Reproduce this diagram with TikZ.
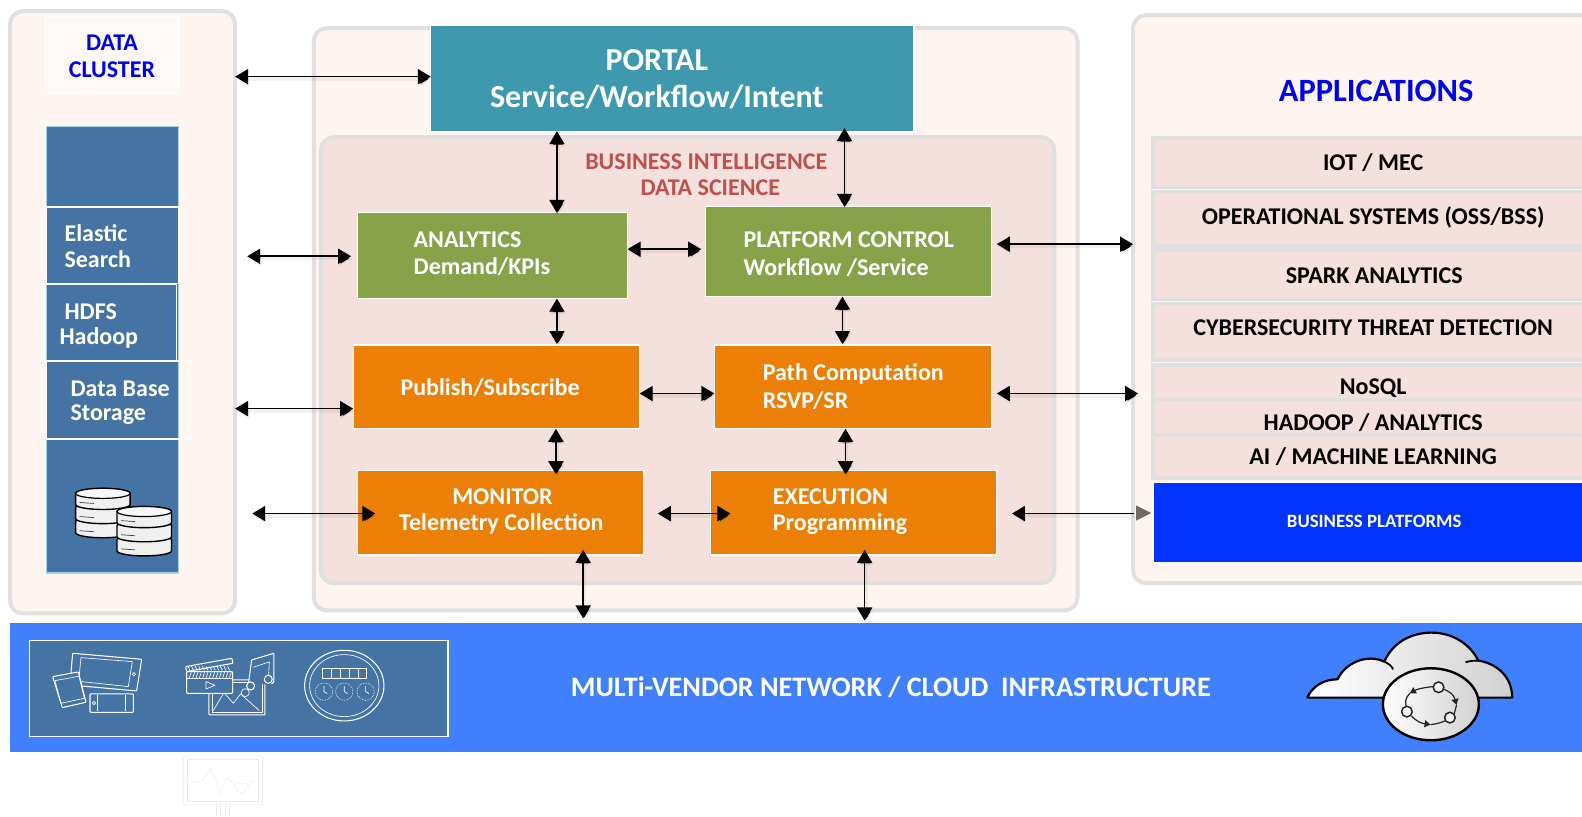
\documentclass[tikz,border=0pt]{standalone}
\usepackage{fontspec}
\setmainfont{Carlito}
\usetikzlibrary{arrows.meta,calc}
\definecolor{panelfill}{HTML}{FEF5F0}
\definecolor{panelline}{HTML}{E0E0E0}
\definecolor{rosefill}{HTML}{F4E0DC}
\definecolor{tealbox}{HTML}{3E99AE}
\definecolor{greenbox}{HTML}{88A24A}
\definecolor{orangebox}{HTML}{EC7F05}
\definecolor{steel}{HTML}{4573A4}
\definecolor{infra}{HTML}{4080FF}
\definecolor{bizblue}{HTML}{0033FF}
\definecolor{bitext}{HTML}{C0504D}
\definecolor{edgeblue}{HTML}{A5D3E3}
\definecolor{ghost}{HTML}{ECECEC}
\definecolor{tipgrey}{HTML}{706A66}
\newcommand{\bx}[6][]{\node[#1,minimum width={(#4-#2)*1.009pt},minimum height={(#5-#3)*1.009pt}] (#6) at ({(#2+#4)/2},{(#3+#5)/2}) {};}
\newcommand{\disk}[2]{%
  \draw[black,line width=1.4pt,fill=white!88!gray] (#1-27,#2) -- (#1-27,#2+11) arc[start angle=180,end angle=0,x radius=27,y radius=5] -- (#1+27,#2) arc[start angle=0,end angle=-180,x radius=27,y radius=5] -- cycle;
  \draw[black!75,line width=.7pt] (#1-23,#2+9) -- (#1-9,#2+10);}
\newcommand{\disktop}[2]{%
  \draw[black,line width=1.2pt,fill=white!94!gray] (#1,#2) ellipse [x radius=27,y radius=5];}
\tikzset{
  panel/.style={draw=panelline,line width=4pt,fill=panelfill,rounded corners=13pt,inner sep=0pt,outer sep=0pt},
  inner panel/.style={draw=panelline,line width=4pt,fill=rosefill,rounded corners=13pt,inner sep=0pt,outer sep=0pt},
  solidbox/.style={draw=white,line width=1.2pt,inner sep=0pt,outer sep=0pt},
  rowbox/.style={draw=panelline,line width=3.5pt,fill=rosefill,inner sep=0pt,outer sep=0pt},
  wframe/.style={draw=white,line width=1.4pt,inner sep=0pt,outer sep=0pt},
  txt/.style={font=\bfseries\fontsize{24}{28}\selectfont,text=white,inner sep=0pt,outer sep=0pt},
  dtxt/.style={font=\bfseries\fontsize{24}{28}\selectfont,text=black,inner sep=0pt},
  softshadow/.style={preaction={draw=black,draw opacity=.05,line width=4pt,transform canvas={shift={(1pt,-2.2pt)}}}},
  dbl/.style={{Triangle[length=13pt,width=15pt]}-{Triangle[length=13pt,width=15pt]},line width=1.6pt,black,softshadow},
  icon/.style={draw=white,line width=1.05pt,line join=round,rounded corners=.8pt},
  icon2/.style={draw=white,line width=.65pt,line join=round},
}
\begin{document}
\begin{tikzpicture}[x=1.009pt,y=-1.009pt]
\clip (0,0) rectangle (1568,809);
\fill[white] (0,0) rectangle (1568,809);
% panels
\bx[panel]{10}{11}{233}{608}{leftpanel}
\bx[panel]{311}{28}{1068}{605}{midpanel}
\bx[panel]{1123}{15}{1592}{578}{rightpanel}
\bx[inner panel]{318}{136}{1045}{578}{bipanel}
% infrastructure band
\bx[solidbox,fill=infra,draw=none]{10}{617}{1568}{745}{infraband}
\bx[solidbox,fill=steel]{29}{635}{444}{730}{devbox}
\node[txt,font=\bfseries\fontsize{28.2}{32}\selectfont] (infralabel) at (883,681) {MULTi-VENDOR NETWORK / CLOUD\ \ INFRASTRUCTURE};
% portal
\bx[solidbox,fill=tealbox]{427}{25}{906}{130}{portal}
\node[txt,font=\bfseries\fontsize{32}{36}\selectfont] (portalA) at (651,60) {PORTAL};
\node[txt,font=\bfseries\fontsize{32}{36}\selectfont] (portalB) at (651,96) {Service/Workflow/Intent};
\node[font=\bfseries\fontsize{24}{28}\selectfont,text=bitext,inner sep=0pt] (biA) at (700,160) {BUSINESS INTELLIGENCE};
\node[font=\bfseries\fontsize{24}{28}\selectfont,text=bitext,inner sep=0pt] (biB) at (704,186) {DATA SCIENCE};
% function boxes
\bx[solidbox,fill=greenbox]{354}{211}{622}{296}{analytics}
\bx[solidbox,fill=greenbox]{699}{205}{983}{294}{platform}
\bx[solidbox,fill=orangebox]{350}{342}{634}{425}{publish}
\bx[solidbox,fill=orangebox]{708}{342}{983}{425}{path}
\bx[solidbox,fill=orangebox]{354}{466}{638}{550}{monitor}
\bx[solidbox,fill=orangebox]{704}{466}{988}{550}{execution}
\node[txt,anchor=west] (anaA) at (410,238) {ANALYTICS};
\node[txt,anchor=west] (anaB) at (410,264) {Demand/KPIs};
\node[txt,anchor=west] (plaA) at (737,238) {PLATFORM CONTROL};
\node[txt,anchor=west] (plaB) at (737,265) {Workflow /Service};
\node[txt,anchor=west] (pubA) at (397,384) {Publish/Subscribe};
\node[txt,anchor=west] (patA) at (756,371) {Path Computation};
\node[txt,anchor=west] (patB) at (756,397) {RSVP/SR};
\node[txt] (monA) at (498,492) {MONITOR};
\node[txt] (monB) at (497,519) {Telemetry Collection};
\node[txt,anchor=west] (exeA) at (766,492) {EXECUTION};
\node[txt,anchor=west] (exeB) at (766,519) {Programming};
% data cluster column
\bx[wframe,fill=white!40!panelfill,line width=1pt]{45}{16}{177}{93}{clusterbox}
\node[font=\bfseries\fontsize{24}{28}\selectfont,text=blue!95!black,inner sep=0pt] (clusA) at (111,42) {DATA};
\node[font=\bfseries\fontsize{24}{28}\selectfont,text=blue!95!black,inner sep=0pt] (clusB) at (111,69) {CLUSTER};
\bx[solidbox,fill=steel,draw=edgeblue]{46}{125}{177}{568}{storecol}
\bx[wframe]{46}{205}{177}{281}{elastic}
\bx[wframe]{41}{282}{175}{358}{hdfs}
\bx[wframe]{46}{358}{189}{435}{dbase}
\node[txt,anchor=west] (elaA) at (64,231) {Elastic};
\node[txt,anchor=west] (elaB) at (64,257) {Search};
\node[txt,anchor=west] (hdfA) at (64,309) {HDFS};
\node[txt,anchor=west] (hdfB) at (59,335) {Hadoop};
\node[txt,anchor=west] (dbA) at (70,385) {Data Base};
\node[txt,anchor=west] (dbB) at (70,411) {Storage};
% cylinders
\disk{102}{517}\disk{102}{503}\disk{102}{489}\disktop{102}{489}
\disk{143}{535}\disk{143}{521}\disk{143}{507}\disktop{143}{507}
% applications
\node[font=\bfseries\fontsize{32.5}{36}\selectfont,text=blue!95!black,inner sep=0pt] (apps) at (1364,90) {APPLICATIONS};
\bx[rowbox]{1143}{137}{1580}{186}{rowA}
\bx[rowbox]{1143}{190}{1580}{244}{rowB}
\bx[rowbox]{1143}{248}{1580}{297}{rowC}
\bx[rowbox]{1143}{301}{1580}{357}{rowD}
\bx[rowbox]{1143}{362}{1580}{396}{rowE}
\bx[rowbox]{1143}{396}{1580}{431}{rowF}
\bx[rowbox]{1143}{431}{1580}{474}{rowG}
\bx[solidbox,fill=bizblue,line width=.6pt]{1143.5}{478}{1580}{557}{bizbox}
\node[dtxt] (tA) at (1361,161) {IOT / MEC};
\node[dtxt] (tB) at (1361,215) {OPERATIONAL SYSTEMS (OSS/BSS)};
\node[dtxt] (tC) at (1362,273) {SPARK ANALYTICS};
\node[dtxt] (tD) at (1361,325) {CYBERSECURITY THREAT DETECTION};
\node[dtxt] (tE) at (1361,385) {NoSQL};
\node[dtxt] (tF) at (1361,419) {HADOOP / ANALYTICS};
\node[dtxt] (tG) at (1361,453) {AI / MACHINE LEARNING};
\node[txt,font=\bfseries\fontsize{18.8}{22}\selectfont] (tH) at (1362,517) {BUSINESS PLATFORMS};
% connectors
\coordinate (leftA) at (245,254);
\coordinate (leftB) at (250,509);
\coordinate (anaTip) at (348,254);
\coordinate (monTip) at (372,509);
\coordinate (exeLeft) at (652,509);
\coordinate (exeTip) at (724,509);
\coordinate (exeRight) at (1003,509);
\coordinate (bizTip) at (1124,509);
\coordinate (infraA) at (578,613);
\coordinate (infraB) at (857,615);
\draw[dbl] (leftpanel.east |- 0,76) -- (portal.west |- 0,76);
\draw[dbl] (552,130) -- (analytics.north -| 552,0);
\draw[dbl] (837,127) -- (platform.north -| 837,0);
\draw[dbl] (leftA) -- (anaTip);
\draw[dbl] (analytics.east |- 0,247) -- (695,247);
\draw[dbl] (988,242) -- (rightpanel.west |- 0,242);
\draw[dbl] (552,296) -- (552,341);
\draw[dbl] (835,294) -- (835,341);
\draw[dbl] (leftpanel.east |- 0,405) -- (publish.west |- 0,405);
\draw[dbl] (publish.east |- 0,390) -- (path.west |- 0,390);
\draw[dbl] (988,390) -- (1128,390);
\draw[dbl] (551,425) -- (551,470);
\draw[dbl] (838,425) -- (838,470);
\draw[dbl] (leftB) -- (monTip);
\draw[dbl] (exeLeft) -- (exeTip);
\draw[{Triangle[length=13pt,width=15pt]}-,line width=1.6pt,softshadow] (exeRight) -- (bizTip);
\fill[tipgrey] (1126,501) -- (1141,508.5) -- (1126,516) -- cycle;
\draw[dbl] (578,545) -- (infraA);
\draw[dbl] (857,545) -- (infraB);
% device icons (zoom coordinates)
\begin{scope}[shift={(0,604.56)},x=0.3333pt,y=-0.3333pt]
 % tablet
 \draw[icon] (218,130) -- (425,148) -- (410,243) -- (210,225) -- cycle;
 \draw[icon2] (243,143) -- (397,155) -- (385,230) -- (236,214) -- cycle;
 \draw[icon2] (402,193) circle (5);
 % phone left
 \draw[icon,fill=steel] (158,200) -- (235,186) -- (258,277) -- (187,293) -- cycle;
 \draw[icon2] (165,212) -- (237,199) -- (253,265) -- (183,280) -- cycle;
 % phone flat
 \draw[icon,fill=steel] (270,252) rectangle (400,307);
 \draw[icon2] (292,255) -- (292,304) (376,255) -- (376,304);
 \draw[icon2] (282,279) circle (5);
 % picture frame
 \draw[icon] (627,210) rectangle (795,315);
 \draw[icon2] (636,218) rectangle (786,306);
 \draw[icon2] (640,302) -- (672,248) -- (700,280) -- (722,252) -- (778,302);
 % music
 \draw[icon,fill=steel] (745,225) -- (755,150) -- (822,130) -- (822,215) -- (815,222);
 \draw[icon2] (760,172) -- (808,156) -- (806,200);
 \draw[icon,fill=steel] (752,228) circle (12);
 \draw[icon,fill=steel] (805,208) circle (12);
 \draw[icon2,fill=steel] (736,248) circle (12);
 % clapper
 \draw[icon,fill=steel] (557,170) -- (696,145) -- (699,160) -- (560,185) -- cycle;
 \draw[icon,fill=steel] (560,185) rectangle (698,250);
 \draw[icon2] (560,205) -- (698,205);
 \foreach \i in {0,...,12} {\draw[icon2] (568+10*\i,204) -- (574+10*\i,187);}
 \foreach \i in {0,...,11} {\draw[icon2] (570+10.8*\i,181) -- (564+10.8*\i,169);}
 \draw[icon2] (618,215) -- (645,226) -- (618,237) -- cycle;
 % meter
 \draw[icon] (1033,227) ellipse [x radius=119,y radius=106];
 \draw[icon2] (1033,227) ellipse [x radius=104,y radius=93];
 \draw[icon2] (967,176) rectangle (1100,205);
 \foreach \i in {993,1020,1047,1074} {\draw[icon2] (\i,176) -- (\i,205);}
 \foreach \c in {972,1033,1097} {
   \draw[icon2,densely dotted] (\c,245) circle (26);
   \draw[icon2] (\c,228) -- (\c,245) -- (\c+10,251);
 }
 % ghost monitor
 \draw[ghost,line width=.5pt,rounded corners=2pt] (550,438) rectangle (788,585);
 \draw[ghost,line width=.5pt] (562,448) rectangle (776,574);
 \draw[ghost,line width=.5pt] (570,515) -- (605,515) -- (635,475) -- (660,550) -- (680,505) -- (700,520) (748,515) -- (765,515);
 \draw[ghost,line width=.5pt] (725,552) .. controls (695,530) and (700,515) .. (725,522) .. controls (750,515) and (755,530) .. (725,552);
 \draw[ghost,line width=.5pt] (650,585) -- (650,618) (662,585) -- (662,618) (676,585) -- (676,612) -- (662,612) (688,585) -- (688,618);
\end{scope}
% cloud
\begin{scope}[shift={(1258.67,604.56)},x=0.3333pt,y=-0.3333pt]
 \path[left color=white,right color=black!18,draw=black,line width=2.2pt,line join=round]
   (112,263) .. controls (130,225) and (165,208) .. (203,208)
   .. controls (225,160) and (290,130) .. (343,155)
   .. controls (375,85) and (440,68) .. (485,68)
   .. controls (545,68) and (600,100) .. (625,152)
   .. controls (680,160) and (727,200) .. (727,263) -- cycle;
 \draw[black,line width=1.8pt] (343,155) .. controls (355,160) and (365,168) .. (370,178);
 \draw[black,line width=1.8pt] (625,152) .. controls (612,152) and (598,153) .. (587,157);
 \path[left color=white,right color=black!18,draw=black,line width=2.4pt] (483,283) ellipse [x radius=144,y radius=108];
 \draw[black!85,line width=1.2pt,-{Triangle[length=6pt,width=7pt]}] (490,230) .. controls (465,232) and (440,238) .. (420,250);
 \draw[black!85,line width=1.2pt] (420,250) .. controls (405,265) and (405,280) .. (410,292);
 \draw[black!85,line width=1.2pt,-{Triangle[length=6pt,width=7pt]}] (425,318) .. controls (440,335) and (455,340) .. (482,344);
 \draw[black!85,line width=1.2pt] (482,344) .. controls (500,342) and (515,338) .. (527,332);
 \draw[black!85,line width=1.2pt,-{Triangle[length=6pt,width=7pt]}] (522,238) .. controls (540,245) and (552,255) .. (560,285);
 \draw[black!85,line width=1.2pt] (560,285) -- (553,312);
 \draw[black!85,line width=1.5pt,fill=white!90!gray] (506,232) circle (16);
 \draw[black!85,line width=1.5pt,fill=white!90!gray] (540,323) circle (16);
 \draw[black!85,line width=1.5pt,fill=white!90!gray] (411,305) circle (16);
\end{scope}
\end{tikzpicture}
\end{document}
